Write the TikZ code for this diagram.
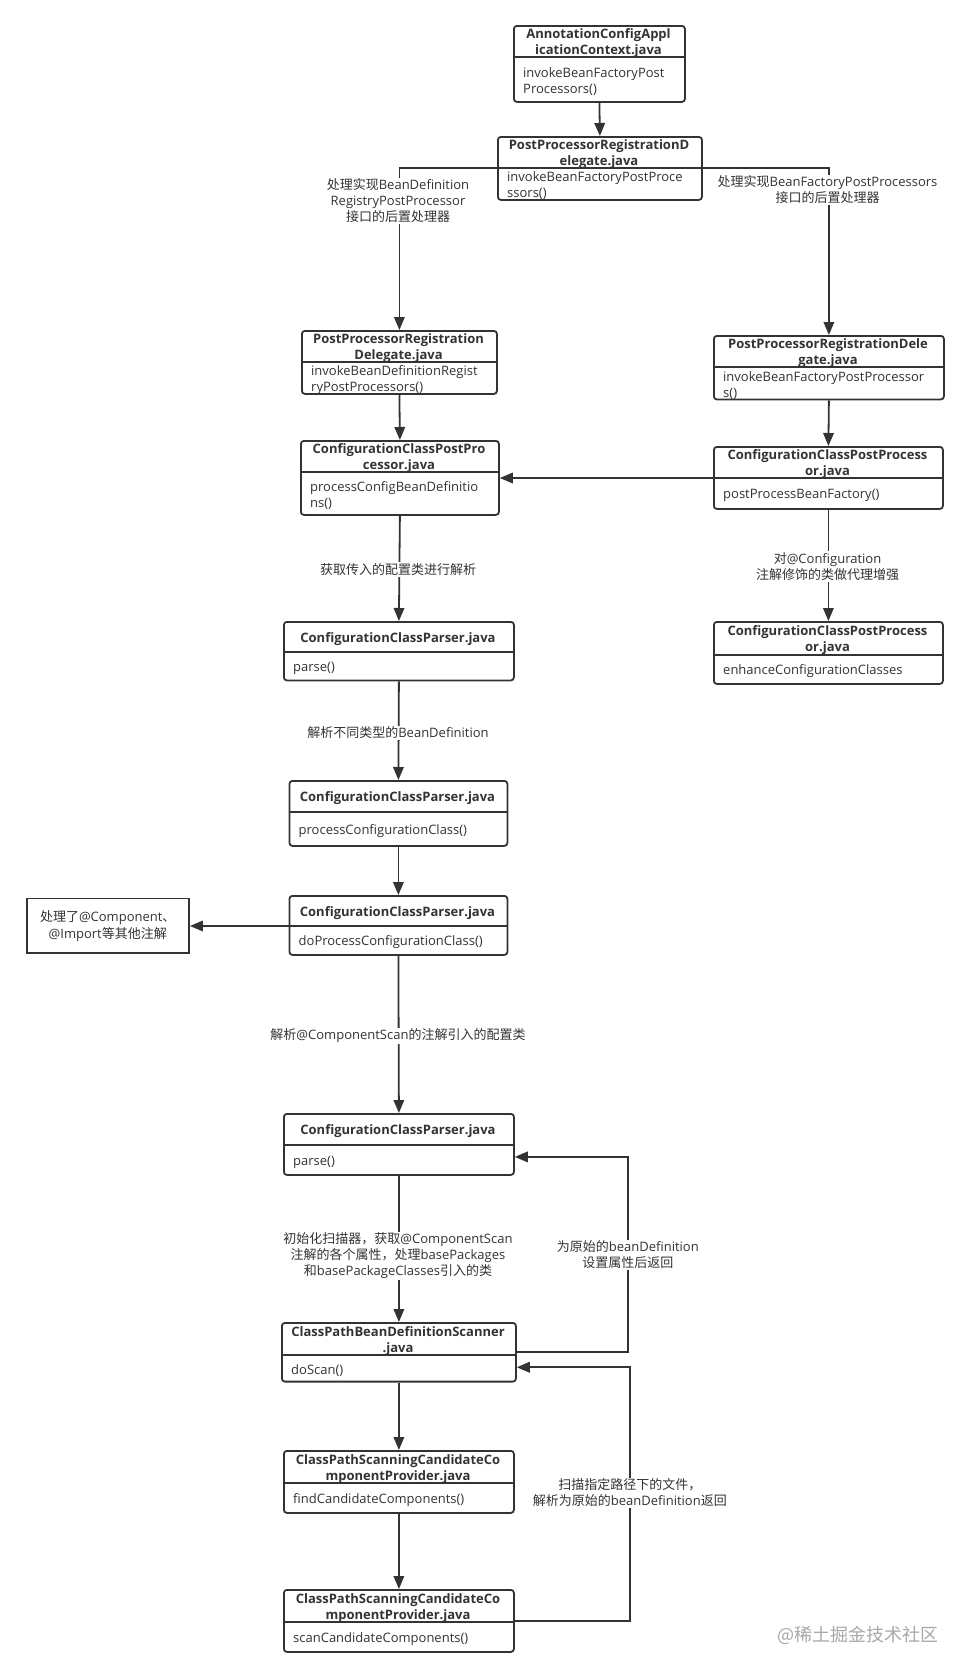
\documentclass[tikz,border=0pt]{standalone}
\usepackage{fontspec}
\setmainfont{Open Sans}
\newfontfamily\cjk{Noto Sans CJK SC}
\usetikzlibrary{arrows.meta}
\definecolor{ln}{HTML}{333333}
\definecolor{wm}{HTML}{A8A8A8}
\tikzset{
  umlbox/.style={draw=ln, line width=1.8pt, rounded corners=3pt, fill=white, inner sep=0pt},
  plainbox/.style={draw=ln, line width=1.9pt, fill=white, inner sep=0pt, align=center, font=\fontsize{13}{17}\selectfont, text=ln},
  divline/.style={draw=ln, line width=1.8pt},
  ttl/.style={font=\fontsize{13}{16}\selectfont\bfseries, align=center, text=ln, inner sep=0pt},
  bdy/.style={font=\fontsize{13}{16}\selectfont, align=left, text=ln, inner sep=0pt, anchor=west},
  conn/.style={draw=ln, line width=1.8pt},
  arr/.style={conn, -{Triangle[length=13pt,width=10.5pt]}},
  lbl/.style={fill=white, inner sep=1pt, align=center, font=\fontsize{13}{16}\selectfont, text=ln},
  wmark/.style={font=\cjk\fontsize{18}{20}\selectfont, text=wm, inner sep=0pt},
}
\newcommand{\umlnode}[8]{%
  \node[umlbox, anchor=north west, minimum width={#4pt-#2pt}, minimum height={#5pt-#3pt}] (#1) at (#2,#3) {};
  \coordinate (#1-dw) at (#2,#6);
  \coordinate (#1-de) at (#4,#6);
  \draw[divline] (#1-dw) -- (#1-de);
  \node[ttl] (#1-t) at ({(#2+#4)/2},{(#3+#6)/2+2.5}) {#7};
  \node[bdy] (#1-b) at ({#2+10},{(#6+#5)/2+2.5}) {#8};
}
\begin{document}
\begin{tikzpicture}[x=1pt,y=-1pt]
\useasboundingbox[fill=white] (0,0) rectangle (968,1676);

% boxes
\umlnode{A}{513}{25}{684}{101}{56.7}{AnnotationConfigAppl\\icationContext.java}{invokeBeanFactoryPost\\Processors()}
\umlnode{B}{497}{136}{701}{199}{168}{PostProcessorRegistrationD\\elegate.java}{invokeBeanFactoryPostProce\\ssors()}
\umlnode{C}{301}{330}{496}{393}{361.7}{PostProcessorRegistration\\Delegate.java}{invokeBeanDefinitionRegist\\ryPostProcessors()}
\umlnode{D}{713}{335}{943}{398.5}{366.7}{PostProcessorRegistrationDele\\gate.java}{invokeBeanFactoryPostProcessor\\s()}
\umlnode{E}{300}{440}{498}{514}{471.7}{ConfigurationClassPostPro\\cessor.java}{processConfigBeanDefinitio\\ns()}
\umlnode{F}{713}{446}{942}{508}{478}{ConfigurationClassPostProcess\\or.java}{postProcessBeanFactory()}
\umlnode{G}{713}{621}{942}{683}{655}{ConfigurationClassPostProcess\\or.java}{enhanceConfigurationClasses}
\umlnode{H}{283}{621}{513}{679.5}{651.7}{ConfigurationClassParser.java}{parse()}
\umlnode{I}{288.5}{780}{506.5}{845}{812}{ConfigurationClassParser.java}{processConfigurationClass()}
\umlnode{J}{288.5}{895}{506.5}{954}{926}{ConfigurationClassParser.java}{doProcessConfigurationClass()}
\umlnode{L}{283}{1113}{513}{1174}{1145}{ConfigurationClassParser.java}{parse()}
\umlnode{M}{281}{1322}{515}{1380.7}{1355}{ClassPathBeanDefinitionScanner\\.java}{doScan()}
\umlnode{N}{283}{1450}{513}{1512}{1483}{ClassPathScanningCandidateCo\\mponentProvider.java}{findCandidateComponents()}
\umlnode{O}{283}{1589}{513}{1651}{1622}{ClassPathScanningCandidateCo\\mponentProvider.java}{scanCandidateComponents()}
\node[plainbox, anchor=north west, minimum width=162.4pt, minimum height=54.5pt] (K) at (25.6,897.5) {{\cjk 处理了}@Component{\cjk 、}\\@Import{\cjk 等其他注解}};

% connectors
\draw[arr] (A.south) -- (B.north);
\draw[arr] (B-dw) -| (C.north);
\draw[arr] (B-de) -| (D.north);
\draw[arr] (C.south) -- (E.north);
\draw[arr] (D.south) -- (F.north);
\draw[arr] (F-dw) -- (E.east |- F-dw);
\draw[arr] (F.south) -- (G.north);
\draw[arr] (E.south) -- (H.north);
\draw[arr] (H.south) -- (I.north);
\draw[arr] (I.south) -- (J.north);
\draw[arr] (J-dw) -- (K.east |- J-dw);
\draw[arr] (J.south) -- (L.north);
\draw[arr] (L.south) -- (M.north);
\draw[arr] (M.south) -- (N.north);
\draw[arr] (N.south) -- (O.north);
\draw[arr] (M.east) -- ++(111,0) coordinate (r1) |- ([yshift=-12.5pt]L.east);
\draw[arr] (O.east) -- ++(115,0) coordinate (r2) |- ([yshift=-15pt]M.east);

% labels
\node[lbl] (l1) at (398,201) {{\cjk 处理实现}BeanDefinition\\RegistryPostProcessor\\{\cjk 接口的后置处理器}};
\node[lbl] (l2) at (827.5,190) {{\cjk 处理实现}BeanFactoryPostProcessors\\{\cjk 接口的后置处理器}};
\node[lbl] (l3) at (827.5,566.5) {{\cjk 对}@Configuration\\{\cjk 注解修饰的类做代理增强}};
\node[lbl] (l4) at (398,569.5) {{\cjk 获取传入的配置类进行解析}};
\node[lbl] (l5) at (398,733) {{\cjk 解析不同类型的}BeanDefinition};
\node[lbl] (l6) at (398,1036) {{\cjk 解析}@ComponentScan{\cjk 的注解引入的配置类}};
\node[lbl] (l7) at (398,1256) {{\cjk 初始化扫描器，获取}@ComponentScan\\{\cjk 注解的各个属性，处理}basePackages\\{\cjk 和}basePackageClasses{\cjk 引入的类}};
\node[lbl] (l8) at (r1 |- 0,1255) {{\cjk 为原始的}beanDefinition\\{\cjk 设置属性后返回}};
\node[lbl] (l9) at (r2 |- 0,1493) {{\cjk 扫描指定路径下的文件，}\\{\cjk 解析为原始的}beanDefinition{\cjk 返回}};
\node[wmark] (wm) at (858,1635) {@稀土掘金技术社区};
\end{tikzpicture}
\end{document}
